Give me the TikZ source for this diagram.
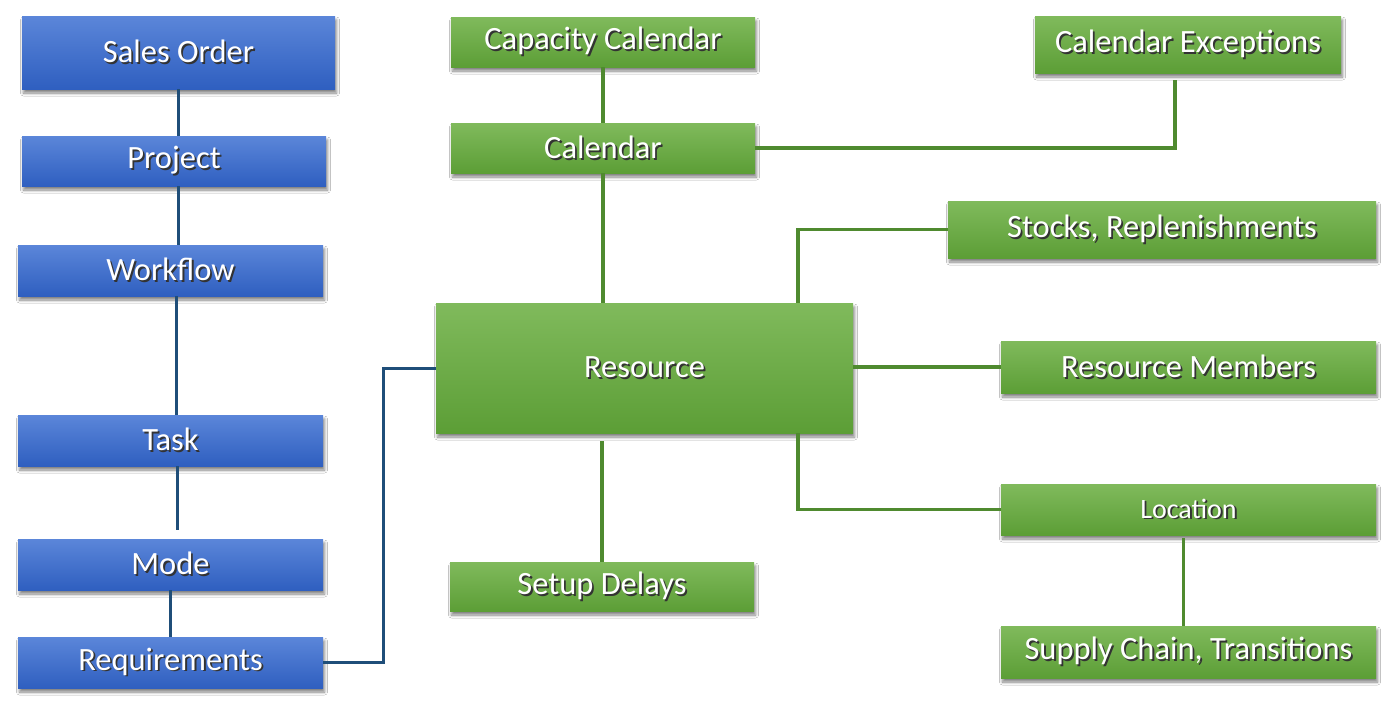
\documentclass[tikz,border=0pt]{standalone}
\usepackage{fontspec}
\setmainfont{Carlito}
\usetikzlibrary{shadows.blur,calc}
\definecolor{btop}{HTML}{5B86D9}
\definecolor{bbot}{HTML}{2F5FC0}
\definecolor{gtop}{HTML}{80BA5C}
\definecolor{gbot}{HTML}{5C9E36}
\definecolor{bline}{HTML}{1F4E79}
\definecolor{gline}{HTML}{4F8A2F}
\newcommand\sht[1]{\leavevmode\rlap{\kern1.8pt\raisebox{-1.8pt}{\textcolor{black!80}{#1}}}#1}
\tikzset{
  box/.style={rectangle, inner sep=0pt, text=white,
    font=\fontsize{32.5}{38}\selectfont,
    blur shadow={shadow xshift=1.5pt, shadow yshift=-4pt, shadow blur steps=6, shadow blur radius=3pt, shadow opacity=50}},
  bbox/.style={box, top color=btop, bottom color=bbot},
  gbox/.style={box, top color=gtop, bottom color=gbot},
  bcon/.style={draw=bline, line width=3pt},
  gcon/.style={draw=gline, line width=3.2pt},
}
\begin{document}
\begin{tikzpicture}[x=1pt,y=-1pt]
\useasboundingbox[fill=white] (0,0) rectangle (1396,721);
% blue
\node[bbox, minimum width=313pt, minimum height=73pt] (so) at (178.5,52.5) {\sht{Sales Order}};
\node[bbox, minimum width=304pt, minimum height=50pt] (proj) at (174,161) {\sht{Project}};
\node[bbox, minimum width=305pt, minimum height=51pt] (wf) at (170.5,270.5) {\sht{Workflow}};
\node[bbox, minimum width=305pt, minimum height=51pt] (task) at (170.5,440.5) {\sht{Task}};
\node[bbox, minimum width=305pt, minimum height=51pt] (mode) at (170.5,564.5) {\sht{Mode}};
\node[bbox, minimum width=305pt, minimum height=51pt] (req) at (170.5,662.5) {\sht{Requirements}};
% green
\node[gbox, minimum width=304pt, minimum height=50pt] (capcal) at (603,42) {\sht{Capacity Calendar}};
\node[gbox, minimum width=304pt, minimum height=50pt] (cal) at (603,148) {\sht{Calendar}};
\node[gbox, minimum width=306pt, minimum height=57pt] (calex) at (1188,44.5) {\sht{Calendar Exceptions}};
\node[gbox, minimum width=428pt, minimum height=57pt] (stocks) at (1162,229.5) {\sht{Stocks, Replenishments}};
\node[gbox, minimum width=417pt, minimum height=130pt] (res) at (644.5,368) {\sht{Resource}};
\node[gbox, minimum width=375pt, minimum height=52pt] (resm) at (1188.5,367) {\sht{Resource Members}};
\node[gbox, minimum width=375pt, minimum height=51pt, font=\fontsize{28}{33}\selectfont] (loc) at (1188.5,509.5) {\sht{Location}};
\node[gbox, minimum width=375pt, minimum height=52pt] (sc) at (1188.5,652) {\sht{Supply Chain, Transitions}};
\node[gbox, minimum width=304pt, minimum height=49pt] (setup) at (602,586.5) {\sht{Setup Delays}};
% blue connectors
\draw[bcon] (so.south) -- (so.south |- proj.north);
\draw[bcon] ([xshift=4pt]proj.south) -- ([xshift=4pt]proj.south |- wf.north);
\draw[bcon] ([xshift=5.5pt]wf.south) -- ([xshift=5.5pt]wf.south |- task.north);
\draw[bcon, shorten >=9pt] ([xshift=6.5pt]task.south) -- ([xshift=6.5pt]task.south |- mode.north);
\draw[bcon] (mode.south) -- (req.north);
\draw[bcon] (req.east) -- ++(60,0) |- (res.west);
% green connectors
\draw[gcon] (capcal.south) -- (cal.north);
\draw[gcon] (cal.east) -| ([xshift=-13pt,yshift=-7pt]calex.south);
\draw[gcon] (cal.south) -- (cal.south |- res.north);
\draw[gcon] ([xshift=153.5pt]res.north) |- (stocks.west);
\draw[gcon] (res.east |- resm.west) -- (resm.west);
\draw[gcon] ([xshift=153.5pt]res.south) |- (loc.west);
\draw[gcon, shorten <=8pt] ([xshift=-42.5pt]res.south) -- ([xshift=-42.5pt]res.south |- setup.north);
\draw[gcon, shorten <=3pt] ([xshift=-5pt]loc.south) -- ([xshift=-5pt]loc.south |- sc.north);
\end{tikzpicture}
\end{document}
